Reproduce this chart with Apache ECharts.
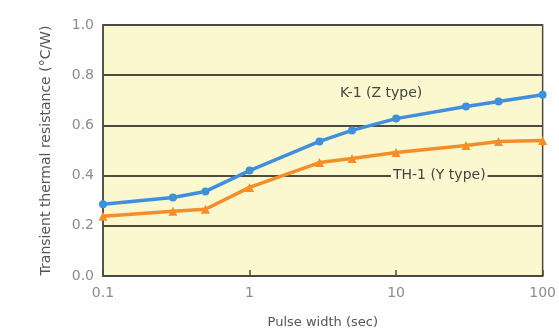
<!DOCTYPE html>
<html>
<head>
<meta charset="utf-8">
<script src="https://cdn.jsdelivr.net/npm/echarts@6/dist/echarts.min.js"></script>
<style>
  html, body { margin:0; padding:0; background:#fff; }
  #chart { width:559px; height:334px; }
</style>
</head>
<body>
<div id="chart"></div>
<script>
// pulse width (sec)
const pulseWidth = [0.1, 0.3, 0.5, 1, 3, 5, 10, 30, 50, 100];
// K-1 (Z type), blue
const k1Values  = [0.286, 0.313, 0.337, 0.42, 0.536, 0.58, 0.627, 0.675, 0.695, 0.722];
// TH-1 (Y type), orange
const th1Values = [0.238, 0.258, 0.266, 0.353, 0.452, 0.468, 0.492, 0.52, 0.536, 0.54];

const FONT = '"DejaVu Sans", sans-serif';
const BG = '#fbf7cf';
const INK = '#4d4a40';
const pair = (xs, ys) => xs.map((x, i) => [x, ys[i]]);

const chart = echarts.init(document.getElementById('chart'));
chart.setOption({
  animation: false,
  backgroundColor: '#fff',
  grid: {
    left: 103, right: 13, top: 25, bottom: 57,
    show: true, backgroundColor: BG, borderColor: INK, borderWidth: 1.5
  },
  xAxis: {
    type: 'log', logBase: 10, min: 0.1, max: 100,
    name: 'Pulse width (sec)', nameLocation: 'middle', nameGap: 40,
    nameTextStyle: { color: '#555', fontSize: 13, fontFamily: FONT },
    axisLine: { lineStyle: { color: INK, width: 1.5 } },
    axisTick: { inside: true, length: 6, lineStyle: { color: INK, width: 1.5 } },
    minorTick: { show: false },
    axisLabel: { color: '#8c8c8c', fontSize: 14, fontFamily: FONT, margin: 10,
      formatter: v => String(v) },
    splitLine: { show: false }
  },
  yAxis: {
    type: 'value', min: 0, max: 1, interval: 0.2,
    name: 'Transient thermal resistance (°C/W)', nameLocation: 'middle', nameGap: 50,
    nameTextStyle: { color: '#555', fontSize: 14, fontFamily: FONT },
    axisLine: { show: true, lineStyle: { color: INK, width: 1.5 } },
    axisTick: { show: false },
    axisLabel: { color: '#8c8c8c', fontSize: 14, fontFamily: FONT, margin: 9,
      formatter: v => v.toFixed(1) },
    splitLine: { lineStyle: { color: INK, width: 1.8 } }
  },
  series: [
    {
      name: 'K-1 (Z type)', type: 'line', data: pair(pulseWidth, k1Values),
      symbol: 'circle', symbolSize: 8, itemStyle: { color: '#3f8fdc' },
      lineStyle: { color: '#3f8fdc', width: 3.5 },
      markPoint: {
        symbol: 'rect', symbolSize: 1, itemStyle: { color: 'transparent' },
        label: { show: true, position: 'inside', color: '#444', fontSize: 14, fontFamily: FONT,
          formatter: 'K-1 (Z type)' },
        data: [{ coord: [7.9, 0.726] }]
      }
    },
    {
      name: 'TH-1 (Y type)', type: 'line', data: pair(pulseWidth, th1Values),
      symbol: 'triangle', symbolSize: 9, itemStyle: { color: '#f48e28' },
      lineStyle: { color: '#f48e28', width: 3.5 },
      markPoint: {
        symbol: 'rect', symbolSize: 1, itemStyle: { color: 'transparent' },
        label: { show: true, position: 'inside', color: '#444', fontSize: 14, fontFamily: FONT,
          backgroundColor: BG, padding: [2, 2],
          formatter: 'TH-1 (Y type)' },
        data: [{ coord: [19.7, 0.4] }]
      }
    }
  ]
});
</script>
</body>
</html>
